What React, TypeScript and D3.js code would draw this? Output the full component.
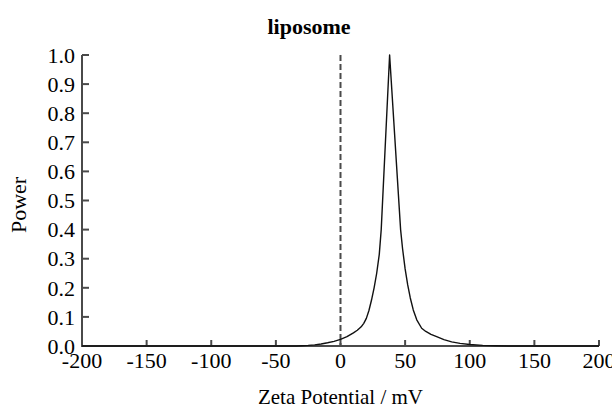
import React from "react";
import * as d3 from "d3";

const zeta: number[] = [-200, -100, -50, -40, -34, -30, -25, -20, -15, -10, -5, 0, 5, 10, 13, 16, 18, 20, 22, 24, 26, 28, 30, 31.5, 38, 46.5, 48, 50, 52, 54, 56.3, 59, 62.8, 66, 70, 74.4, 80, 86, 92.5, 100, 110, 120, 130, 140, 200];
const power: number[] = [0, 0, 0, 0, 0, 0.001, 0.002, 0.004, 0.007, 0.011, 0.016, 0.023, 0.032, 0.045, 0.054, 0.066, 0.078, 0.095, 0.122, 0.158, 0.2, 0.25, 0.315, 0.4, 1.0, 0.4, 0.335, 0.265, 0.21, 0.165, 0.124, 0.09, 0.061, 0.05, 0.04, 0.032, 0.022, 0.014, 0.009, 0.005, 0.002, 0.001, 0, 0, 0];
const xTicks: number[] = [-200, -150, -100, -50, 0, 50, 100, 150, 200];
const yTicks: number[] = [0, 0.1, 0.2, 0.3, 0.4, 0.5, 0.6, 0.7, 0.8, 0.9, 1.0];
const title = "liposome";
const xLabel = "Zeta Potential / mV";
const yLabel = "Power";

export default function App() {
  const W = 612, H = 410;
  const left = 82, right = 599, top = 55, bottom = 346;
  const x = d3.scaleLinear().domain([-200, 200]).range([left, right]);
  const y = d3.scaleLinear().domain([0, 1]).range([bottom, top]);
  const pts = zeta.map((z, i) => [z, power[i]] as [number, number]);
  const line = d3.line<[number, number]>().x(d => x(d[0])).y(d => y(d[1])).curve(d3.curveLinear);
  const font = "'Liberation Serif', 'Times New Roman', serif";
  const axisColor = "#4a4a4a";
  return (
    <svg width={W} height={H} style={{ position: "absolute", left: 0, top: 0, background: "#fff" }} fontFamily={font}>
      <text x={309} y={34} textAnchor="middle" fontWeight="bold" fontSize={22}>{title}</text>
      <line x1={x(0)} x2={x(0)} y1={y(1)} y2={y(0)} stroke={axisColor} strokeWidth={2} strokeDasharray="6,3" />
      <path d={`M${left},${top}V${bottom}H${right}`} fill="none" stroke={axisColor} strokeWidth={2} />
      {yTicks.map(t => (
        <g key={"y" + t}>
          <line x1={left} x2={left + 7} y1={y(t)} y2={y(t)} stroke={axisColor} strokeWidth={2} />
          <text x={left - 7} y={y(t)} dy="0.35em" textAnchor="end" fontSize={22}>{t.toFixed(1)}</text>
        </g>
      ))}
      {xTicks.map(t => (
        <g key={"x" + t}>
          <line x1={x(t)} x2={x(t)} y1={bottom} y2={bottom - 6} stroke={axisColor} strokeWidth={2} />
          <text x={x(t)} y={368} textAnchor="middle" fontSize={22}>{t}</text>
        </g>
      ))}
      <path d={line(pts) || ""} fill="none" stroke="#111" strokeWidth={1.4} strokeLinejoin="round" />
      <text x={(left + right) / 2} y={404} textAnchor="middle" fontSize={21}>{xLabel}</text>
      <text transform={`translate(26,205) rotate(-90)`} textAnchor="middle" fontSize={22}>{yLabel}</text>
    </svg>
  );
}
